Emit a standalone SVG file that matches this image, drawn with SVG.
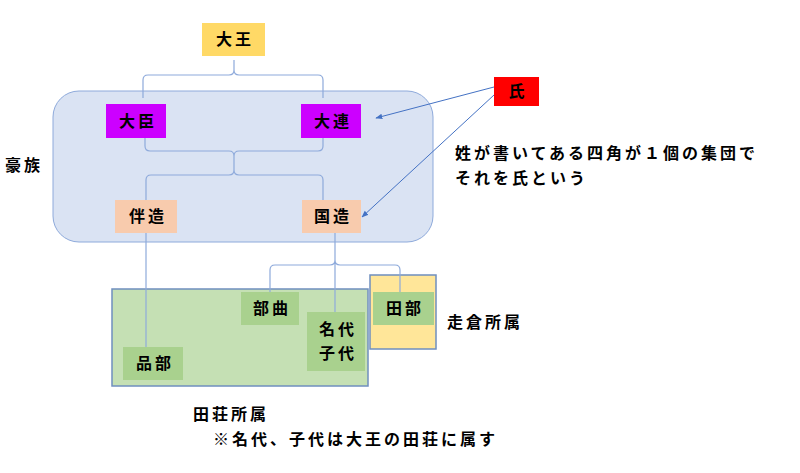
<svg xmlns="http://www.w3.org/2000/svg" width="800" height="473" viewBox="0 0 800 473">
<defs>
<style>
text{font-family:"Noto Sans CJK JP","Noto Sans CJK SC",sans-serif;font-size:16px;fill:#000;font-weight:bold;letter-spacing:3px}
.c{text-anchor:middle}
.ln{fill:none;stroke:#8eaadb;stroke-width:1.2}
.ar{fill:none;stroke:#4472c4;stroke-width:1}
</style>
<marker id="a" viewBox="0 0 10 10" refX="9" refY="5" markerWidth="7" markerHeight="7" orient="auto"><path d="M0,1 L10,5 L0,9 z" fill="#4472c4"/></marker>
</defs>
<rect width="800" height="473" fill="#fff"/>
<g id="gozoku"><rect x="53" y="91" width="380" height="151" rx="26" fill="#dae3f3" stroke="#8eaadb" stroke-width="1"/><text x="5" y="171">豪族</text></g>
<g id="tasho"><rect x="112" y="289" width="256" height="97" fill="#c5e0b4" stroke="#6f8fbf" stroke-width="1.5"/><text x="193" y="420">田荘所属</text><text x="213" y="445">※名代、子代は大王の田荘に属す</text></g>
<g id="miyake"><rect x="370" y="275" width="66" height="74" fill="#ffe699" stroke="#6f8fbf" stroke-width="1.5"/><text x="447" y="328">走倉所属</text></g>
<g id="connectors">
<path class="ln" d="M234,60 V70 Q234,75 229,75 H148 Q143,75 143,80 V98 M234,70 Q234,75 239,75 H318 Q323,75 323,80 V98"/>
<path class="ln" d="M145,120 V146 Q145,151 150,151 H229 Q234,151 234,156 V170 Q234,175 229,175 H151 Q146,175 146,180 V200 M323,120 V146 Q323,151 318,151 H239 Q234,151 234,156 M234,170 Q234,175 239,175 H318 Q323,175 323,180 V200"/>
<path class="ln" d="M146,233 V347"/>
<path class="ln" d="M335,233 V260 Q335,265 330,265 H275 Q270,265 270,270 V292 M335,260 Q335,265 340,265 H395 Q400,265 400,270 V292 M335,262 V316"/>
<path class="ar" d="M494,87 L376,118" marker-end="url(#a)"/>
<path class="ar" d="M494,95 L362,217" marker-end="url(#a)"/>
</g>
<g id="daio"><rect x="202" y="23" width="63" height="33" fill="#ffd966"/><text class="c" x="235" y="45">大王</text></g>
<g id="omi"><rect x="106" y="104" width="60" height="34" fill="#cc00ff"/><text class="c" x="138" y="127">大臣</text></g>
<g id="muraji"><rect x="301" y="104" width="60" height="34" fill="#cc00ff"/><text class="c" x="333" y="127">大連</text></g>
<g id="uji"><rect x="494" y="77" width="45" height="29" fill="#ff0000"/><text class="c" x="518" y="97">氏</text></g>
<g id="note"><text x="455" y="159">姓が書いてある四角が１個の集団で</text><text x="455" y="184">それを氏という</text></g>
<g id="tomo"><rect x="115" y="200" width="62" height="33" fill="#f8cbad"/><text class="c" x="148" y="222">伴造</text></g>
<g id="kuni"><rect x="302" y="200" width="59" height="33" fill="#f8cbad"/><text class="c" x="333" y="222">国造</text></g>
<g id="kakibe"><rect x="241" y="292" width="58" height="33" fill="#a9d18e"/><text class="c" x="272" y="314">部曲</text></g>
<g id="nashiro"><rect x="307" y="312" width="58" height="59" fill="#a9d18e"/><text class="c" x="338" y="335">名代</text><text class="c" x="338" y="359">子代</text></g>
<g id="shinabe"><rect x="123" y="347" width="60" height="33" fill="#a9d18e"/><text class="c" x="155" y="369">品部</text></g>
<g id="tabe"><rect x="373" y="292" width="61" height="33" fill="#a9d18e"/><text class="c" x="405" y="314">田部</text></g>
</svg>
